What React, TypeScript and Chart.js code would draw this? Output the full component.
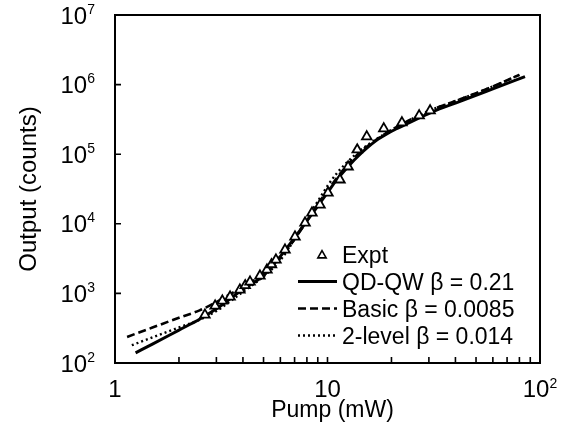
import React, { useEffect, useRef } from "react";
import { Chart, registerables } from "chart.js";

Chart.register(...registerables);

// ---- Data ----
const exptX = [2.65, 2.96, 3.2, 3.48, 3.87, 4.1, 4.32, 4.81, 5.19, 5.45, 5.72, 6.31, 7.03, 7.84, 8.45, 9.22, 10.05, 11.45, 12.5, 13.8, 15.3, 18.4, 22.4, 27.0, 30.4];
const exptY = [491, 661, 780, 891, 1123, 1300, 1463, 1786, 2178, 2600, 3034, 4223, 6501, 10330, 14400, 18750, 27900, 42950, 66070, 116100, 178600, 232800, 284000, 358000, 422700];

const qdX = [1.25, 1.5, 2, 2.5, 3, 4, 5, 6, 7, 8, 9, 10, 11, 12.8, 14, 15.3, 17, 19, 21, 23.7, 31.4, 40, 60, 85];
const qdY = [140, 187, 297, 425, 600, 1150, 1800, 3400, 6300, 11000, 18000, 28000, 42000, 72000, 95000, 122000, 158000, 195000, 230000, 275000, 409000, 543000, 869000, 1300000];

const basicX = [1.14, 1.5, 2, 2.5, 3, 4, 5, 6, 7, 8, 9, 10, 12, 14, 16, 20, 30, 40, 60, 80];
const basicY = [237, 323, 447, 570, 750, 1250, 1900, 3200, 6000, 11000, 19000, 30000, 62000, 102000, 142000, 222000, 420000, 580000, 940000, 1380000];

const twoX = [1.2, 1.5, 2, 2.5, 3, 4, 5, 6, 7, 8, 9, 10, 11, 12, 14, 17, 20, 30, 40, 60, 80];
const twoY = [180, 233, 324, 418, 560, 1050, 1750, 3000, 6000, 12000, 21000, 35000, 52000, 70000, 108000, 165000, 222000, 420000, 580000, 940000, 1380000];

const seriesLabels = ["Expt", "QD-QW \u03B2 = 0.21", "Basic \u03B2 = 0.0085", "2-level \u03B2 = 0.014"];

const xTickValues = [1, 10, 100];
const xTickBases = ["1", "10", "10"];
const xTickExps = ["", "", "2"];
const yTickExps = [2, 3, 4, 5, 6, 7];

const xTitle = "Pump (mW)";
const yTitle = "Output (counts)";

const FONT = '"Liberation Sans", Arial, sans-serif';

const toPts = (xs: number[], ys: number[]) => xs.map((x, i) => ({ x, y: ys[i] }));

export default function App() {
  const ref = useRef<HTMLCanvasElement | null>(null);

  useEffect(() => {
    if (!ref.current) return;

    const customPlugin = {
      id: "custom",
      afterDraw(chart: any) {
        const { ctx, chartArea: ca } = chart;
        const xs = chart.scales.x;
        const ys = chart.scales.y;
        const datasets = chart.data.datasets;
        ctx.save();
        ctx.strokeStyle = "#000";
        ctx.fillStyle = "#000";
        // frame
        ctx.lineWidth = 2;
        ctx.setLineDash([]);
        ctx.strokeRect(ca.left, ca.top, ca.right - ca.left, ca.bottom - ca.top);
        // y ticks
        ctx.lineWidth = 1.6;
        ctx.beginPath();
        yTickExps.forEach((e) => {
          const py = ys.getPixelForValue(Math.pow(10, e));
          ctx.moveTo(ca.left, py);
          ctx.lineTo(ca.left + 6, py);
        });
        // x ticks (major + minor)
        [1, 10].forEach((d) => {
          for (let m = 2; m <= 10; m++) {
            const px = xs.getPixelForValue(m * d);
            ctx.moveTo(px, ca.bottom);
            ctx.lineTo(px, ca.bottom - 6);
          }
        });
        ctx.stroke();

        // y tick labels
        const bigFont = "24px " + FONT;
        const smallFont = "14px " + FONT;
        ctx.textBaseline = "alphabetic";
        yTickExps.forEach((e) => {
          const py = ys.getPixelForValue(Math.pow(10, e));
          const expStr = String(e);
          ctx.font = smallFont;
          const ew = ctx.measureText(expStr).width;
          const right = ca.left - 20;
          ctx.textAlign = "left";
          ctx.fillText(expStr, right - ew, py - 1.5);
          ctx.font = bigFont;
          ctx.textAlign = "right";
          ctx.fillText("10", right - ew, py + 8.5);
        });

        // x tick labels
        xTickValues.forEach((v, i) => {
          const px = xs.getPixelForValue(v);
          ctx.font = bigFont;
          const bw = ctx.measureText(xTickBases[i]).width;
          ctx.font = smallFont;
          const ew = xTickExps[i] ? ctx.measureText(xTickExps[i]).width : 0;
          const start = px - (bw + ew) / 2;
          ctx.textAlign = "left";
          ctx.font = bigFont;
          ctx.fillText(xTickBases[i], start, ca.bottom + 34);
          if (xTickExps[i]) {
            ctx.font = smallFont;
            ctx.fillText(xTickExps[i], start + bw, ca.bottom + 25);
          }
        });

        // axis titles
        ctx.font = "23px " + FONT;
        ctx.textAlign = "center";
        ctx.fillText(xTitle, (ca.left + ca.right) / 2 + 5, ca.bottom + 54);
        ctx.save();
        ctx.font = "24px " + FONT;
        ctx.translate(36, (ca.top + ca.bottom) / 2);
        ctx.rotate(-Math.PI / 2);
        ctx.fillText(yTitle, 0, 0);
        ctx.restore();

        // legend
        const textX = 342;
        const baselines = [263, 290, 317, 344];
        ctx.font = "23px " + FONT;
        ctx.textAlign = "left";
        datasets.forEach((ds: any, i: number) => {
          const b = baselines[i];
          const cy = b - 8.5;
          if (ds.pointStyle === "triangle") {
            const r = 4.8;
            const cx = 322;
            const tcy = cy + 1;
            ctx.beginPath();
            ctx.setLineDash([]);
            ctx.lineWidth = 1.6;
            ctx.moveTo(cx, tcy - r);
            ctx.lineTo(cx + r * 0.866, tcy + r * 0.5);
            ctx.lineTo(cx - r * 0.866, tcy + r * 0.5);
            ctx.closePath();
            ctx.fillStyle = "#fff";
            ctx.fill();
            ctx.stroke();
            ctx.fillStyle = "#000";
          } else {
            ctx.beginPath();
            ctx.lineWidth = ds.borderWidth;
            ctx.setLineDash(ds.borderDash || []);
            ctx.moveTo(298, cy);
            ctx.lineTo(337, cy);
            ctx.stroke();
            ctx.setLineDash([]);
          }
          ctx.fillText(ds.label, textX, b);
        });
        ctx.restore();
      },
    };

    const chart = new Chart(ref.current, {
      type: "scatter",
      data: {
        datasets: [
          {
            label: seriesLabels[0],
            data: toPts(exptX, exptY),
            pointStyle: "triangle",
            pointRadius: 5.5,
            pointBorderWidth: 1.8,
            borderColor: "#000",
            backgroundColor: "#fff",
            showLine: false,
            order: 0,
          } as any,
          {
            label: seriesLabels[1],
            data: toPts(qdX, qdY),
            showLine: true,
            pointRadius: 0,
            borderColor: "#000",
            borderWidth: 3,
            borderDash: [],
            cubicInterpolationMode: "monotone",
            order: 1,
          } as any,
          {
            label: seriesLabels[2],
            data: toPts(basicX, basicY),
            showLine: true,
            pointRadius: 0,
            borderColor: "#000",
            borderWidth: 2.6,
            borderDash: [8, 4],
            cubicInterpolationMode: "monotone",
            order: 2,
          } as any,
          {
            label: seriesLabels[3],
            data: toPts(twoX, twoY),
            showLine: true,
            pointRadius: 0,
            borderColor: "#000",
            borderWidth: 2.4,
            borderDash: [2, 3],
            cubicInterpolationMode: "monotone",
            order: 3,
          } as any,
        ],
      },
      options: {
        responsive: false,
        animation: false,
        devicePixelRatio: 1,
        layout: { padding: { left: 115, top: 15, right: 34, bottom: 68 } },
        plugins: { legend: { display: false }, tooltip: { enabled: false } },
        scales: {
          x: { type: "logarithmic", min: 1, max: 100, display: false },
          y: { type: "logarithmic", min: 100, max: 10000000, display: false },
        },
      },
      plugins: [customPlugin],
    });
    return () => chart.destroy();
  }, []);

  return (
    <div style={{ position: "absolute", left: 0, top: 0, width: 574, height: 431, background: "#fff" }}>
      <canvas ref={ref} width={574} height={431} style={{ width: 574, height: 431, display: "block" }} />
    </div>
  );
}
